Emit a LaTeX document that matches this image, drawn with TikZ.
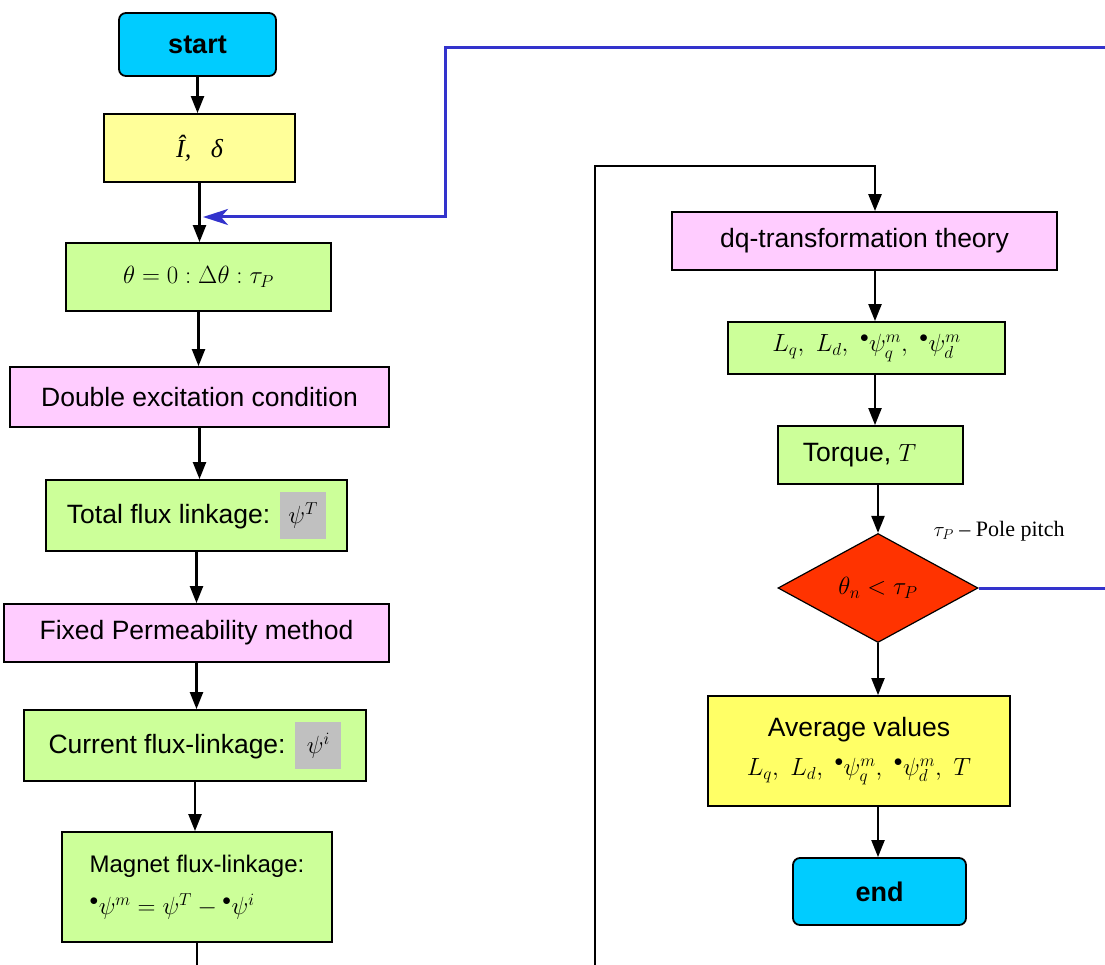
\documentclass[tikz,border=0pt]{standalone}
\usepackage{fontspec}
\setmainfont{Liberation Sans}
\newfontfamily\serifface[Ligatures=TeX]{Liberation Serif}
\usetikzlibrary{arrows.meta,shapes.geometric}
\definecolor{cyanbox}{HTML}{00CCFF}
\definecolor{yellowlt}{HTML}{FFFF99}
\definecolor{yellowbox}{HTML}{FFFF66}
\definecolor{greenbox}{HTML}{CCFF99}
\definecolor{pinkbox}{HTML}{FFCCFF}
\definecolor{redbox}{HTML}{FF3300}
\definecolor{graybox}{HTML}{C0C0C0}
\definecolor{loopblue}{HTML}{3333CC}
\tikzset{
  box/.style={draw=black, line width=1.8pt, inner sep=0pt, align=center, font=\fontsize{26.5}{31}\selectfont},
  termbox/.style={box, fill=cyanbox, rounded corners=7pt, font=\fontsize{27}{32}\selectfont\bfseries},
  greenb/.style={box, fill=greenbox},
  pinkb/.style={box, fill=pinkbox},
  flow/.style={draw=black, line width=2.2pt, -{Triangle[length=17pt,width=13pt]}},
  plainline/.style={draw=black, line width=2.6pt},
  blueline/.style={draw=loopblue, line width=3pt},
  hl/.style={fill=graybox, inner sep=0pt, minimum width=46pt, minimum height=47pt},
}
\newcommand{\gbox}[1]{\tikz[baseline=(g.base)]\node[hl] (g) {#1};}
\begin{document}
\begin{tikzpicture}[x=1pt,y=-1pt]
\useasboundingbox (0,0) rectangle (1105,965);
% left column
\node[termbox, minimum width=157pt, minimum height=63pt] (start) at (197.5,44.5) {start};
\node[box, fill=yellowlt, minimum width=191pt, minimum height=68pt, font=\serifface\itshape\fontsize{26}{30}\selectfont] (ihat) at (199.5,148) {Î,\ \ \ δ};
\node[greenb, minimum width=265pt, minimum height=68pt] (theta) at (198.5,277) {$\theta = 0 : \Delta\theta : \tau_P$};
\node[pinkb, minimum width=379pt, minimum height=60pt] (dbl) at (199.5,397) {Double excitation condition};
\node[greenb, minimum width=301pt, minimum height=71pt] (total) at (196.5,515.5) {Total flux linkage: \gbox{$\psi^{T}$}};
\node[pinkb, minimum width=385pt, minimum height=58pt] (fixed) at (196.5,633) {Fixed Permeability method};
\node[greenb, minimum width=342pt, minimum height=71pt] (current) at (195,745.5) {Current flux-linkage: \gbox{$\psi^{i}$}};
\node[greenb, minimum width=270pt, minimum height=110pt, align=left, font=\fontsize{24}{28}\selectfont] (magnet) at (197,887) {Magnet flux-linkage:\hspace{18pt}\\[14pt] ${}^{\bullet}\psi^{m} = \psi^{T} - {}^{\bullet}\psi^{i}$};

\draw[flow] (start.south) -- (start.south |- ihat.north);
\draw[flow] (ihat.south) -- (ihat.south |- theta.north);
\draw[flow] (theta.south) -- (theta.south |- dbl.north);
\draw[flow] (dbl.south) -- (dbl.south |- total.north);
\draw[flow] (total.south) -- (total.south |- fixed.north);
\draw[flow] (fixed.south) -- (fixed.south |- current.north);
\draw[flow] (current.south) -- (current.south |- magnet.north);
\coordinate (lout) at (197,965);
\draw[plainline] (magnet.south) -- (lout);

% right column
\node[pinkb, minimum width=385pt, minimum height=58pt] (dq) at (864.5,241) {dq-transformation theory};
\node[greenb, minimum width=277pt, minimum height=52pt] (lq) at (866.5,348) {$L_q,\ L_d,\ {}^{\bullet}\psi_q^{m},\ {}^{\bullet}\psi_d^{m}$};
\node[greenb, minimum width=185pt, minimum height=58pt] (torque) at (870.5,455) {Torque, $T$\hspace{22pt}};
\node[draw=black, line width=1.2pt, fill=redbox, diamond, aspect=1.83, inner sep=0pt, minimum width=200pt, minimum height=109pt, font=\fontsize{24}{28}\selectfont] (dec) at (878,588) {$\theta_n < \tau_P$};
\node[anchor=west, font=\serifface\fontsize{22}{26}\selectfont] (pp) at (930,531) {$\tau_P$ – Pole pitch};
\node[box, fill=yellowbox, minimum width=302pt, minimum height=110pt] (avg) at (859,751) {Average values\\[8pt] $L_q,\ L_d,\ {}^{\bullet}\psi_q^{m},\ {}^{\bullet}\psi_d^{m},\ T$};
\node[termbox, minimum width=173pt, minimum height=67pt] (end) at (879.5,891.5) {end};

\coordinate (dqin) at (875,166);
\coordinate (rout) at (595,965);
\draw[plainline, -{Triangle[length=17pt,width=13pt]}] (rout) -- (595,166) -- (dqin) -- (dqin |- dq.north);
\draw[flow] (dq.south -| dqin) -- (lq.north -| dqin);
\draw[flow] (lq.south -| dqin) -- (torque.north -| dqin);
\draw[flow] (torque.south -| dec.north) -- (dec.north);
\draw[flow] (dec.south) -- (avg.north -| dec.south);
\draw[flow] (avg.south -| dec.south) -- (end.north -| dec.south);

% blue loop
\coordinate (bright) at (1105,588);
\coordinate (btop) at (1105,48);
\coordinate (bin) at (203,217);
\draw[blueline] (dec.east) -- (bright);
\draw[blueline, -{Stealth[length=25pt,width=16pt,inset=7pt]}] (btop) -- (445,48) -- (445,217) -- (bin);
\end{tikzpicture}
\end{document}
